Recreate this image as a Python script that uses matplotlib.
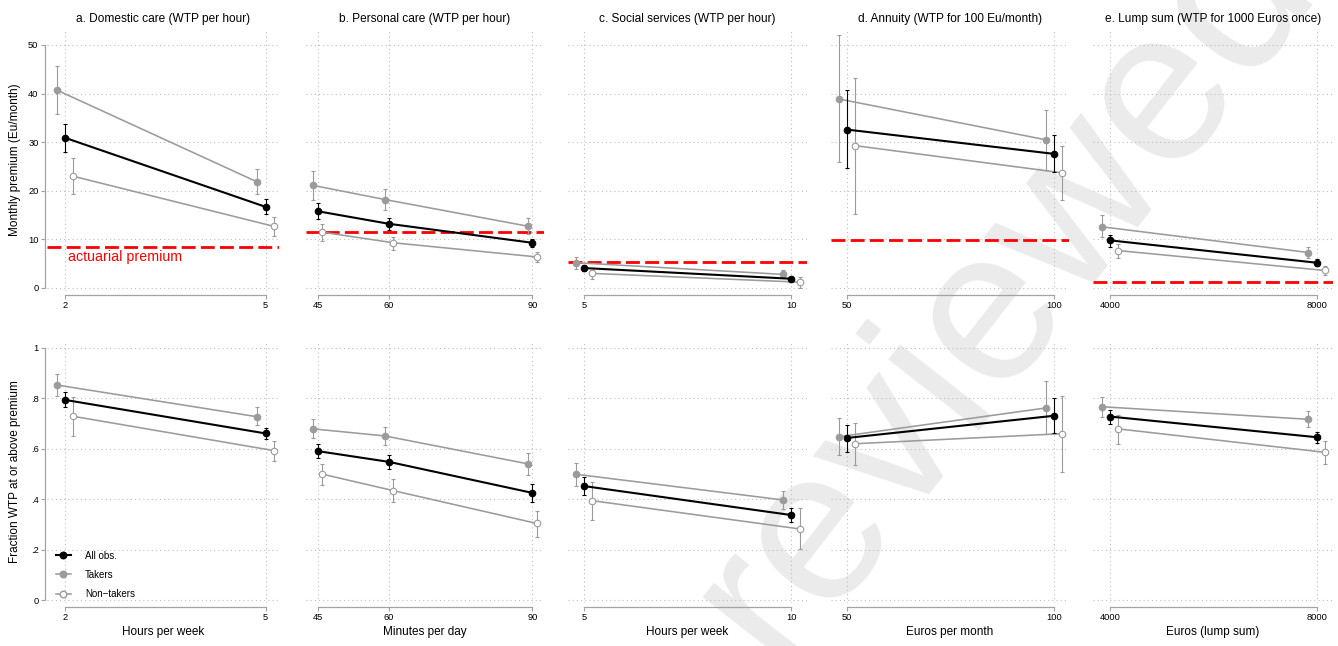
import matplotlib
matplotlib.use("Agg")
import matplotlib.pyplot as plt
from matplotlib.lines import Line2D

plt.rcParams['font.family'] = ['Liberation Sans', 'DejaVu Sans']
plt.rcParams['lines.scale_dashes'] = False

# ---------------- data ----------------
titles = ["a. Domestic care (WTP per hour)", "b. Personal care (WTP per hour)",
          "c. Social services (WTP per hour)", "d. Annuity (WTP for 100 Eu/month)",
          "e. Lump sum (WTP for 1000 Euros once)"]
xlabels = ["Hours per week", "Minutes per day", "Hours per week",
           "Euros per month", "Euros (lump sum)"]
x_levels = [[2, 5], [45, 60, 90], [5, 10], [50, 100], [4000, 8000]]
actuarial = [8.5, 11.5, 5.3, 9.9, 1.3]
group_labels = ["All obs.", "Takers", "Non\u2212takers"]

# Monthly premium (Eu/month): mean, lower CI, upper CI per panel
prem_all = [[30.9, 16.7], [15.8, 13.2, 9.3], [4.1, 1.9], [32.6, 27.6], [9.8, 5.2]]
prem_all_lo = [[28.0, 15.3], [14.2, 12.0, 8.4], [3.4, 1.5], [24.6, 23.8], [8.4, 4.6]]
prem_all_hi = [[33.8, 18.3], [17.5, 14.5, 10.0], [4.7, 2.3], [40.7, 31.4], [11.0, 5.9]]
prem_tak = [[40.7, 21.8], [21.1, 18.2, 12.7], [5.2, 2.8], [38.9, 30.5], [12.6, 7.3]]
prem_tak_lo = [[35.7, 19.3], [18.2, 16.0, 11.1], [4.0, 2.1], [25.9, 24.3], [10.4, 6.2]]
prem_tak_hi = [[45.7, 24.4], [24.0, 20.4, 14.3], [6.4, 3.6], [52.0, 36.6], [15.0, 8.5]]
prem_non = [[23.0, 12.7], [11.5, 9.3, 6.4], [3.0, 1.2], [29.3, 23.7], [7.7, 3.6]]
prem_non_lo = [[19.3, 10.7], [9.6, 7.8, 5.3], [1.9, 0.1], [15.2, 18.1], [6.1, 2.6]]
prem_non_hi = [[26.7, 14.7], [13.2, 10.5, 7.4], [3.8, 2.3], [43.3, 29.3], [9.0, 4.6]]

# Fraction WTP at or above premium
frac_all = [[.794, .661], [.591, .548, .425], [.452, .337], [.643, .731], [.728, .646]]
frac_all_lo = [[.765, .639], [.563, .519, .389], [.417, .308], [.589, .663], [.698, .623]]
frac_all_hi = [[.824, .684], [.619, .577, .459], [.489, .366], [.693, .800], [.755, .668]]
frac_tak = [[.853, .727], [.679, .651, .540], [.499, .397], [.648, .762], [.767, .717]]
frac_tak_lo = [[.811, .693], [.643, .614, .496], [.454, .361], [.575, .657], [.726, .685]]
frac_tak_hi = [[.896, .765], [.717, .688, .585], [.545, .434], [.724, .870], [.807, .749]]
frac_non = [[.729, .593], [.500, .434, .304], [.394, .282], [.620, .660], [.679, .586]]
frac_non_lo = [[.651, .553], [.456, .388, .251], [.317, .201], [.534, .507], [.619, .538]]
frac_non_hi = [[.806, .631], [.541, .479, .354], [.470, .364], [.704, .811], [.735, .632]]

prem_yticks = [0, 10, 20, 30, 40, 50]
frac_yticks = [0, .2, .4, .6, .8, 1]
frac_yticklabels = ["0", ".2", ".4", ".6", ".8", "1"]

# ---------------- layout / style ----------------
W, H = 1338, 646
fig = plt.figure(figsize=(W / 100, H / 100), dpi=100)

col_px = [(47, 279), (306, 544), (568, 807), (831, 1069), (1093, 1333)]
xlims = [(1.729, 5.202), (42.59, 92.43), (4.609, 10.376), (46.18, 103.67), (3673.0, 8315.0)]
offsets = [0.12, 0.88, 0.2, 1.95, 160]
row_px = [(29, 291), (342, 603)]
ylims = [(-0.62, 53.29), (-0.0119, 1.0238)]

GRAY = '#9b9b9b'
AXGRAY = '#a3a3a3'
FS_T = 8.6
FS_X = 8.5
FS_TICK = 6.7

rows = [
    (prem_all, prem_all_lo, prem_all_hi, prem_tak, prem_tak_lo, prem_tak_hi,
     prem_non, prem_non_lo, prem_non_hi),
    (frac_all, frac_all_lo, frac_all_hi, frac_tak, frac_tak_lo, frac_tak_hi,
     frac_non, frac_non_lo, frac_non_hi),
]


def yerr(m, lo, hi):
    return [[a - b for a, b in zip(m, lo)], [b - a for a, b in zip(m, hi)]]


for r in range(2):
    (m_all, l_all, h_all, m_tak, l_tak, h_tak, m_non, l_non, h_non) = rows[r]
    y0, y1 = row_px[r]
    for c in range(5):
        x0, x1 = col_px[c]
        ax = fig.add_axes([x0 / W, 1 - y1 / H, (x1 - x0) / W, (y1 - y0) / H])
        ax.set_facecolor('none')
        ax.set_xlim(*xlims[c])
        ax.set_ylim(*ylims[r])
        xs = x_levels[c]
        ax.set_xticks(xs)
        ax.set_xticklabels([str(v) for v in xs])
        if r == 0:
            ax.set_yticks(prem_yticks)
            ax.set_yticklabels([str(v) for v in prem_yticks])
        else:
            ax.set_yticks(frac_yticks)
            ax.set_yticklabels(frac_yticklabels)
        ax.set_axisbelow(True)
        ax.grid(True, linestyle=(0, (0.8, 2.2)), color='#bdbdbd', lw=0.75)
        for s in ['top', 'right', 'left']:
            ax.spines[s].set_visible(False)
        ax.spines['bottom'].set_position(('outward', 2.9))
        ax.spines['bottom'].set_bounds(xs[0], xs[-1])
        ax.spines['bottom'].set_color(AXGRAY)
        ax.spines['bottom'].set_linewidth(0.9)
        ax.tick_params(axis='x', direction='out', length=3, width=0.8,
                       color=AXGRAY, labelsize=FS_TICK, pad=1.5)
        if c == 0:
            ax.spines['left'].set_visible(True)
            ax.spines['left'].set_position(('outward', 1.6))
            ax.spines['left'].set_bounds(ax.get_yticks()[0], ax.get_yticks()[-1])
            ax.spines['left'].set_color(AXGRAY)
            ax.spines['left'].set_linewidth(0.9)
            ax.tick_params(axis='y', direction='out', length=3, width=0.8,
                           color=AXGRAY, labelsize=FS_TICK, pad=1.5)
        else:
            ax.tick_params(axis='y', left=False, labelleft=False)

        off = offsets[c]
        xs_t = [v - off for v in xs]
        xs_n = [v + off for v in xs]

        if r == 0:
            ax.axhline(actuarial[c], color='red', lw=2.0, dashes=(10, 3.8), zorder=2)

        # takers
        ax.errorbar(xs_t, m_tak[c], yerr=yerr(m_tak[c], l_tak[c], h_tak[c]),
                    fmt='none', ecolor=GRAY, elinewidth=0.8, capsize=1.7, capthick=0.8, zorder=3)
        ax.plot(xs_t, m_tak[c], '-o', color=GRAY, lw=1.15, ms=4.7, mfc=GRAY, mec=GRAY,
                mew=0.8, zorder=3)
        # non-takers
        ax.errorbar(xs_n, m_non[c], yerr=yerr(m_non[c], l_non[c], h_non[c]),
                    fmt='none', ecolor=GRAY, elinewidth=0.8, capsize=1.7, capthick=0.8, zorder=3)
        ax.plot(xs_n, m_non[c], '-o', color=GRAY, lw=1.15, ms=4.7, mfc='white', mec=GRAY,
                mew=0.8, zorder=3)
        # all obs
        ax.errorbar(xs, m_all[c], yerr=yerr(m_all[c], l_all[c], h_all[c]),
                    fmt='none', ecolor='black', elinewidth=0.8, capsize=1.7, capthick=0.8, zorder=4)
        ax.plot(xs, m_all[c], '-o', color='black', lw=1.5, ms=4.7, mfc='black', mec='black',
                mew=0.8, zorder=4)

        if r == 0:
            ax.set_title(titles[c], fontsize=FS_T, pad=5)
            if c == 0:
                ax.text(2.04, 6.4, "actuarial premium", color='red', fontsize=10.3,
                        ha='left', va='center')
        else:
            ax.set_xlabel(xlabels[c], fontsize=FS_X, labelpad=3)
            if c == 0:
                handles = [
                    Line2D([0], [0], color='black', lw=1.5, marker='o', ms=4.7, mfc='black', mec='black'),
                    Line2D([0], [0], color=GRAY, lw=1.15, marker='o', ms=4.7, mfc=GRAY, mec=GRAY),
                    Line2D([0], [0], color=GRAY, lw=1.15, marker='o', ms=4.7, mfc='white', mec=GRAY),
                ]
                ax.legend(handles, group_labels, loc='lower left', bbox_to_anchor=(0.039, 0.015),
                          frameon=False, fontsize=7.0, handlelength=1.5, handletextpad=1.48,
                          labelspacing=0.95, borderpad=0, borderaxespad=0)

fig.text(15.5 / W, 1 - 160 / H, "Monthly premium (Eu/month)", rotation=90,
         ha='center', va='center', fontsize=FS_X)
fig.text(15.5 / W, 1 - 472 / H, "Fraction WTP at or above premium", rotation=90,
         ha='center', va='center', fontsize=FS_X)

# watermark
fig.text(1003 / W, 1 - 290 / H, "reviewed", fontsize=157, color='#ebebeb', rotation=52,
         ha='center', va='center', rotation_mode='anchor', zorder=-10)

fig.savefig("out.png", dpi=100)
